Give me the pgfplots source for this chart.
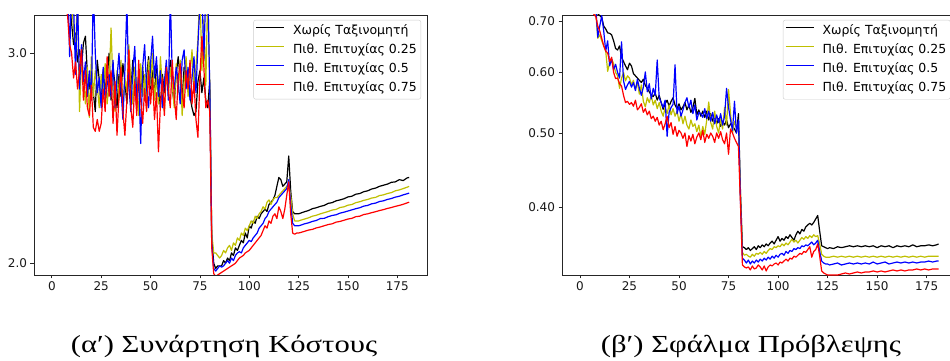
\documentclass[border=0pt]{standalone}
\usepackage{fontspec}
\setmainfont{DejaVu Sans}
\newfontfamily\capfont[FakeStretch=1.25]{Liberation Serif}
\usepackage{pgfplots}
\usepackage{pgfplotstable}
\pgfplotsset{compat=1.18}

\definecolor{mplblack}{rgb}{0,0,0}
\definecolor{mplyellow}{rgb}{0.75,0.75,0}
\definecolor{mplblue}{rgb}{0,0,1}
\definecolor{mplred}{rgb}{1,0,0}

% cost function: x, no classifier, p=0.25, p=0.5, p=0.75
\pgfplotstableread{
x k y b r
0 4.60 4.70 4.80 4.50
1 4.30 4.40 4.50 4.20
2 4.10 4.15 4.20 3.95
3 3.90 3.95 4.00 3.80
4 3.75 3.80 3.85 3.65
5 3.62 3.66 3.70 3.52
6 3.52 3.56 3.60 3.42
7 3.45 3.48 3.52 3.30
8 3.40 3.45 3.50 3.22
9 3.30 3.35 2.98 3.05
10 3.18 3.30 3.40 3.00
11 3.05 3.15 3.30 2.86
12 3.12 3.00 2.88 2.95
13 2.95 3.40 3.35 2.80
14 3.02 2.68 2.80 2.90
15 2.92 2.95 3.05 3.02
16 3.06 2.85 2.84 2.74
17 3.10 2.72 2.95 2.90
18 2.88 2.92 2.76 2.70
19 2.80 2.65 2.90 2.66
20 2.90 2.98 2.74 2.82
21 2.78 2.76 3.40 2.60
22 2.68 2.90 3.00 2.58
23 2.96 2.82 2.78 2.64
24 2.85 2.70 2.86 2.58
25 2.72 2.88 2.70 2.62
26 2.90 2.78 2.92 2.80
27 2.80 2.94 2.74 2.68
28 2.86 2.72 2.82 2.98
29 3.00 2.84 2.88 2.76
30 2.74 3.15 2.76 2.90
31 2.92 2.80 2.96 2.62
32 2.82 2.68 2.70 2.84
33 2.70 2.90 2.86 2.56
34 2.88 2.74 3.00 2.76
35 2.76 2.96 2.80 2.92
36 2.94 2.70 2.64 2.68
37 2.84 2.86 2.90 2.56
38 2.72 2.78 3.30 2.74
39 2.90 3.05 2.82 3.02
40 2.78 2.84 2.68 2.70
41 2.96 2.72 2.90 2.60
42 2.84 2.92 3.04 2.84
43 2.70 2.80 2.74 2.66
44 2.88 2.66 2.86 2.96
45 2.78 2.94 2.52 2.74
46 2.92 2.76 2.92 2.62
47 2.74 2.88 3.05 2.80
48 2.86 2.70 2.80 2.68
49 2.98 2.96 2.70 2.90
50 2.80 2.82 2.94 2.72
51 2.90 3.00 3.10 2.86
52 2.76 2.74 2.86 2.64
53 2.94 2.86 2.98 2.78
54 2.82 2.72 2.76 2.48
55 2.70 2.98 2.90 2.72
56 2.88 2.80 2.70 2.86
57 2.78 2.68 2.84 2.66
58 2.92 2.90 2.96 2.92
59 2.84 2.76 2.74 2.80
60 2.96 2.92 3.35 2.70
61 2.80 2.82 2.88 2.96
62 2.72 2.70 2.80 2.76
63 2.88 2.94 2.92 2.64
64 2.98 2.78 2.84 2.86
65 2.86 2.96 2.72 2.94
66 2.74 2.66 2.96 2.78
67 2.92 2.84 3.02 2.70
68 2.82 2.98 2.80 2.90
69 2.90 2.76 2.92 2.80
70 2.76 2.88 2.74 2.96
71 2.70 3.02 2.86 2.72
72 2.66 2.80 2.98 2.84
73 2.68 2.92 2.78 2.64
74 2.84 3.08 3.05 2.55
75 2.90 3.40 3.30 2.86
76 2.78 2.90 3.40 3.10
77 2.86 3.20 2.96 2.92
78 2.74 2.82 3.40 2.70
79 2.70 3.40 3.40 2.74
80 2.85 2.78 2.80 2.68
81 2.10 2.12 2.08 2.06
82 2.00 2.04 1.98 1.96
83 1.98 2.04 1.97 1.95
84 1.99 2.03 1.98 1.955
85 1.99 2.02 1.99 1.96
86 1.99 2.03 1.985 1.965
87 2.01 2.05 1.99 1.97
88 2.00 2.04 2.00 1.975
89 2.02 2.06 2.01 1.98
90 2.01 2.07 2.00 1.985
91 2.04 2.05 2.02 1.99
92 2.03 2.08 2.01 1.995
93 2.06 2.07 2.03 2.00
94 2.05 2.10 2.04 2.01
95 2.07 2.09 2.045 2.02
96 2.09 2.12 2.04 2.025
97 2.08 2.11 2.06 2.03
98 2.12 2.14 2.07 2.04
99 2.10 2.13 2.08 2.045
100 2.15 2.15 2.09 2.05
101 2.14 2.17 2.085 2.06
102 2.17 2.16 2.10 2.07
103 2.16 2.19 2.11 2.08
104 2.19 2.18 2.12 2.09
105 2.18 2.20 2.14 2.10
106 2.20 2.21 2.15 2.11
107 2.21 2.23 2.16 2.13
108 2.22 2.22 2.18 2.15
109 2.21 2.25 2.19 2.14
110 2.24 2.26 2.21 2.17
111 2.25 2.24 2.22 2.16
112 2.26 2.26 2.23 2.19
113 2.28 2.27 2.24 2.20
114 2.32 2.27 2.25 2.18
115 2.36 2.28 2.27 2.23
116 2.35 2.29 2.28 2.21
117 2.32 2.30 2.29 2.18
118 2.33 2.31 2.30 2.22
119 2.34 2.32 2.31 2.28
120 2.46 2.33 2.35 2.34
121 2.30 2.28 2.24 2.20
122 2.21 2.20 2.16 2.12
123 2.20 2.17 2.15 2.115
124 2.20 2.17 2.15 2.12
125 2.20 2.17 2.15 2.12
126 2.203 2.173 2.152 2.122
128 2.209 2.178 2.158 2.127
130 2.214 2.183 2.162 2.132
132 2.222 2.190 2.168 2.135
134 2.226 2.194 2.172 2.141
136 2.232 2.200 2.180 2.145
138 2.236 2.205 2.181 2.150
140 2.245 2.210 2.188 2.155
142 2.248 2.216 2.193 2.158
144 2.256 2.219 2.196 2.165
146 2.260 2.227 2.203 2.168
148 2.265 2.230 2.207 2.173
150 2.273 2.237 2.212 2.178
152 2.276 2.240 2.217 2.181
154 2.285 2.248 2.222 2.188
156 2.288 2.252 2.226 2.190
158 2.296 2.258 2.233 2.197
160 2.300 2.262 2.236 2.200
162 2.308 2.268 2.243 2.205
164 2.312 2.271 2.246 2.209
166 2.320 2.279 2.253 2.214
168 2.325 2.282 2.256 2.218
170 2.330 2.288 2.262 2.223
172 2.338 2.292 2.266 2.227
174 2.340 2.300 2.272 2.232
176 2.350 2.304 2.276 2.236
178 2.346 2.310 2.282 2.241
180 2.358 2.316 2.287 2.247
181 2.360 2.320 2.290 2.250
}\costdata

% prediction error: x, no classifier, p=0.25, p=0.5, p=0.75
\pgfplotstableread{
x k y b r
0 0.98 0.96 0.97 0.95
1 0.93 0.91 0.92 0.90
2 0.88 0.86 0.87 0.85
3 0.84 0.82 0.83 0.81
4 0.80 0.79 0.80 0.78
5 0.77 0.76 0.77 0.75
6 0.75 0.74 0.75 0.73
7 0.74 0.725 0.735 0.715
8 0.73 0.72 0.73 0.71
9 0.716 0.665 0.667 0.690
10 0.712 0.672 0.690 0.680
11 0.708 0.660 0.712 0.665
12 0.690 0.650 0.680 0.650
13 0.684 0.640 0.640 0.640
14 0.676 0.602 0.660 0.636
15 0.675 0.618 0.612 0.620
16 0.672 0.625 0.625 0.628
17 0.660 0.616 0.605 0.600
18 0.645 0.600 0.615 0.589
19 0.642 0.594 0.600 0.590
20 0.650 0.572 0.590 0.580
21 0.628 0.590 0.658 0.576
22 0.620 0.600 0.585 0.560
23 0.612 0.585 0.570 0.548
24 0.605 0.594 0.578 0.550
25 0.617 0.590 0.584 0.545
26 0.612 0.578 0.574 0.548
27 0.598 0.586 0.582 0.542
28 0.594 0.570 0.568 0.552
29 0.590 0.582 0.588 0.536
30 0.586 0.562 0.572 0.540
31 0.582 0.578 0.560 0.546
32 0.588 0.550 0.574 0.532
33 0.577 0.541 0.601 0.538
34 0.572 0.556 0.566 0.528
35 0.566 0.548 0.580 0.534
36 0.560 0.560 0.554 0.522
37 0.558 0.544 0.572 0.526
38 0.564 0.552 0.560 0.518
39 0.552 0.538 0.623 0.524
40 0.560 0.548 0.556 0.512
41 0.548 0.534 0.548 0.518
42 0.537 0.526 0.540 0.505
43 0.546 0.540 0.552 0.514
44 0.552 0.530 0.495 0.526
45 0.542 0.544 0.532 0.508
46 0.550 0.528 0.540 0.516
47 0.556 0.538 0.545 0.498
48 0.544 0.526 0.614 0.510
49 0.538 0.534 0.530 0.495
50 0.546 0.518 0.542 0.504
51 0.536 0.530 0.526 0.500
52 0.541 0.514 0.536 0.492
53 0.548 0.526 0.548 0.500
54 0.536 0.512 0.556 0.480
55 0.544 0.506 0.540 0.496
56 0.532 0.520 0.552 0.488
57 0.540 0.510 0.530 0.498
58 0.555 0.514 0.544 0.484
59 0.528 0.502 0.520 0.494
60 0.536 0.512 0.532 0.500
61 0.526 0.495 0.530 0.490
62 0.534 0.510 0.524 0.504
63 0.524 0.498 0.538 0.486
64 0.534 0.520 0.522 0.498
65 0.520 0.549 0.534 0.492
66 0.530 0.516 0.518 0.500
67 0.518 0.506 0.532 0.495
68 0.526 0.534 0.514 0.486
69 0.514 0.510 0.528 0.500
70 0.522 0.500 0.516 0.492
71 0.510 0.522 0.530 0.502
72 0.518 0.506 0.512 0.490
73 0.512 0.540 0.526 0.484
74 0.520 0.512 0.572 0.500
75 0.508 0.570 0.540 0.469
76 0.514 0.530 0.520 0.506
77 0.510 0.500 0.504 0.500
78 0.506 0.518 0.550 0.492
79 0.500 0.508 0.500 0.486
80 0.530 0.512 0.520 0.480
81 0.420 0.415 0.410 0.405
82 0.355 0.349 0.343 0.336
83 0.354 0.346 0.341 0.334
84 0.352 0.347 0.338 0.333
85 0.354 0.345 0.341 0.334
86 0.351 0.344 0.337 0.331
87 0.353 0.347 0.340 0.335
88 0.355 0.345 0.338 0.332
89 0.352 0.348 0.341 0.333
90 0.356 0.347 0.339 0.336
91 0.354 0.349 0.342 0.334
92 0.357 0.347 0.340 0.331
93 0.355 0.350 0.343 0.335
94 0.358 0.348 0.341 0.330
95 0.356 0.351 0.344 0.334
96 0.359 0.353 0.342 0.336
97 0.361 0.352 0.345 0.335
98 0.358 0.355 0.343 0.337
99 0.362 0.354 0.346 0.338
100 0.366 0.356 0.344 0.336
101 0.361 0.355 0.347 0.339
102 0.364 0.358 0.348 0.338
103 0.362 0.356 0.346 0.340
104 0.366 0.359 0.350 0.342
105 0.364 0.357 0.348 0.340
106 0.368 0.360 0.351 0.343
107 0.365 0.363 0.350 0.342
108 0.362 0.360 0.353 0.345
109 0.368 0.362 0.352 0.344
110 0.372 0.359 0.354 0.346
111 0.369 0.362 0.353 0.348
112 0.374 0.365 0.356 0.347
113 0.372 0.363 0.355 0.350
114 0.377 0.366 0.357 0.349
115 0.379 0.364 0.356 0.352
116 0.381 0.367 0.358 0.355
117 0.379 0.365 0.360 0.344
118 0.382 0.368 0.357 0.350
119 0.386 0.366 0.359 0.352
120 0.390 0.367 0.362 0.358
121 0.372 0.358 0.350 0.345
122 0.356 0.347 0.340 0.330
123 0.355 0.345 0.338 0.328
124 0.354 0.344 0.337 0.327
125 0.353 0.344 0.337 0.326
126 0.354 0.344 0.336 0.326
128 0.353 0.345 0.337 0.326
130 0.355 0.344 0.338 0.326
132 0.354 0.345 0.336 0.327
134 0.355 0.344 0.337 0.328
136 0.356 0.345 0.338 0.327
138 0.355 0.344 0.337 0.328
140 0.356 0.345 0.338 0.329
142 0.355 0.344 0.337 0.328
144 0.356 0.345 0.338 0.329
146 0.355 0.344 0.337 0.329
148 0.356 0.345 0.339 0.330
150 0.354 0.344 0.337 0.329
152 0.356 0.345 0.338 0.330
154 0.355 0.344 0.339 0.329
156 0.356 0.345 0.337 0.330
158 0.354 0.344 0.338 0.331
160 0.356 0.345 0.339 0.330
162 0.355 0.344 0.338 0.331
164 0.356 0.345 0.339 0.330
166 0.355 0.344 0.338 0.331
168 0.357 0.345 0.339 0.331
170 0.355 0.344 0.338 0.332
172 0.356 0.345 0.339 0.331
174 0.356 0.344 0.339 0.332
176 0.357 0.345 0.340 0.331
178 0.356 0.345 0.339 0.332
180 0.357 0.345 0.340 0.332
181 0.358 0.345 0.340 0.332
}\errordata

\pgfplotsset{
  mplpanel/.style={
    scale only axis,
    anchor=south west,
    height=260pt,
    xmin=-9.05, xmax=190.05,
    xtick={0,25,50,75,100,125,150,175},
    xticklabels={0,25,50,75,100,125,150,175},
    yminorticks=false,
    tick pos=lower,
    tick align=outside,
    major tick length=3.5pt,
    tick style={black!85, line width=0.8pt},
    axis line style={black!85, line width=0.8pt},
    ticklabel style={font=\fontsize{12}{14}\selectfont, text=black!90},
  },
  mpllegend/.style={
    legend style={
      at={(1,1)}, anchor=north east, yshift=-5pt, xshift=#1,
      draw=black!20, rounded corners=2pt, fill=white,
      font=\fontsize{12.5}{15}\selectfont,
      inner xsep=2pt, inner ysep=3pt,
      row sep=3pt,
      nodes={inner sep=2pt, text height=9pt, text depth=3pt},
    },
    legend cell align=left,
  },
  % series styles; the legend sample is a short line in the same colour
  seriesk/.style={color=mplblack, line width=1.2pt, line join=round,
    legend image code/.code={\draw[mplblack, line width=1.6pt] (0pt,3.6pt) -- (28pt,3.6pt); \path (34pt,3.6pt);}},
  seriesy/.style={color=mplyellow, line width=1.2pt, line join=round,
    legend image code/.code={\draw[mplyellow, line width=1.6pt] (0pt,3.6pt) -- (28pt,3.6pt); \path (34pt,3.6pt);}},
  seriesb/.style={color=mplblue, line width=1.2pt, line join=round,
    legend image code/.code={\draw[mplblue, line width=1.6pt] (0pt,3.6pt) -- (28pt,3.6pt); \path (34pt,3.6pt);}},
  seriesr/.style={color=mplred, line width=1.2pt, line join=round,
    legend image code/.code={\draw[mplred, line width=1.6pt] (0pt,3.6pt) -- (28pt,3.6pt); \path (34pt,3.6pt);}},
}

\begin{document}
\begin{tikzpicture}
\path[use as bounding box] (0pt,0pt) rectangle (950pt,361pt);

% left panel: cost function
\begin{axis}[ymode=log, mplpanel, mpllegend=-6pt,
  at={(34pt,86pt)}, width=393pt,
  ymin=1.955, ymax=3.23,
  ytick={2,3}, yticklabels={2.0,3.0},
]
\addplot[seriesk] table[x=x,y=k] {\costdata};
\addplot[seriesy] table[x=x,y=y] {\costdata};
\addplot[seriesb] table[x=x,y=b] {\costdata};
\addplot[seriesr] table[x=x,y=r] {\costdata};
\legend{Χωρίς Ταξινομητή, Πιθ. Επιτυχίας 0.25, Πιθ. Επιτυχίας 0.5, Πιθ. Επιτυχίας 0.75}
\end{axis}

% right panel: prediction error
\begin{axis}[ymode=log, mplpanel, mpllegend=-6pt,
  at={(562pt,86pt)}, width=394.5pt,
  ymin=0.326, ymax=0.7134,
  ytick={0.4,0.5,0.6,0.7}, yticklabels={0.40,0.50,0.60,0.70},
]
\addplot[seriesk] table[x=x,y=k] {\errordata};
\addplot[seriesy] table[x=x,y=y] {\errordata};
\addplot[seriesb] table[x=x,y=b] {\errordata};
\addplot[seriesr] table[x=x,y=r] {\errordata};
\legend{Χωρίς Ταξινομητή, Πιθ. Επιτυχίας 0.25, Πιθ. Επιτυχίας 0.5, Πιθ. Επιτυχίας 0.75}
\end{axis}

% sub-captions
\node[anchor=base, inner sep=0pt] at (224pt,8.3pt) {\capfont\fontsize{24.5}{30}\selectfont (α′) Συνάρτηση Κόστους};
\node[anchor=base, inner sep=0pt] at (751pt,8.3pt) {\capfont\fontsize{24.5}{30}\selectfont (β′) Σφάλμα Πρόβλεψης};
\end{tikzpicture}
\end{document}
